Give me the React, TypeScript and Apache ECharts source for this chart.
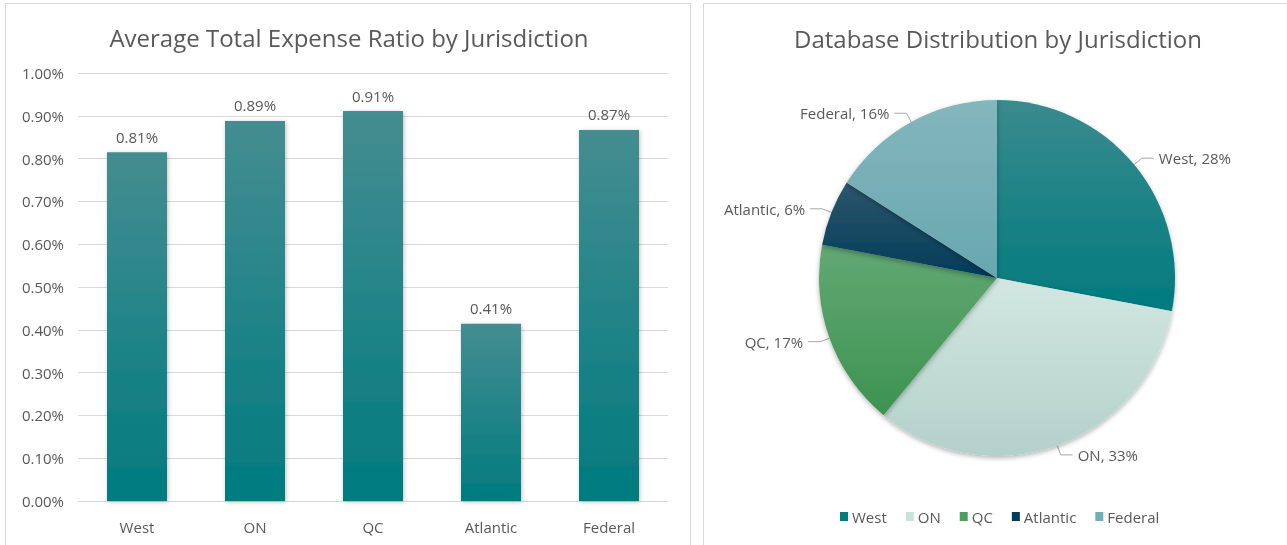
import React, { useEffect, useRef } from "react";
import * as echarts from "echarts";

const barCategories = ["West", "ON", "QC", "Atlantic", "Federal"];
const expenseRatios = [0.815, 0.888, 0.911, 0.414, 0.867];
const yTicks = [0, 0.1, 0.2, 0.3, 0.4, 0.5, 0.6, 0.7, 0.8, 0.9, 1.0];

const pieNames = ["West", "ON", "QC", "Atlantic", "Federal"];
const pieShares = [28, 33, 17, 6, 16];

const pieColors = [
  ["#3a8a8d", "#007b7f"],
  ["#d2e7e1", "#b4d0ca"],
  ["#62a874", "#3c9350"],
  ["#2d566c", "#003c58"],
  ["#84b6bd", "#68a7b0"],
];
const legendColors = ["#007b7f", "#c9e2dc", "#4a9e5e", "#003e5c", "#72aeb5"];

const FONT = "'Open Sans', 'Noto Sans', sans-serif";
const TXT = "#595959";

export default function App() {
  const ref = useRef<HTMLDivElement>(null);
  useEffect(() => {
    const chart = echarts.init(ref.current!, null, { renderer: "svg" });
    const grad = (top: string, bottom: string) =>
      new echarts.graphic.LinearGradient(0, 0, 0, 1, [
        { offset: 0, color: top },
        { offset: 1, color: bottom },
      ]);
    chart.setOption({
      animation: false,
      textStyle: { fontFamily: FONT },
      graphic: [
        {
          type: "rect",
          shape: { x: 5.5, y: 3.5, width: 685, height: 560 },
          style: { fill: "#fff", stroke: "#d9d9d9", lineWidth: 1 },
          z: -10,
        },
        {
          type: "rect",
          shape: { x: 703.5, y: 3.5, width: 600, height: 560 },
          style: { fill: "#fff", stroke: "#d9d9d9", lineWidth: 1 },
          z: -10,
        },
      ],
      title: [
        {
          text: "Average Total Expense Ratio by Jurisdiction",
          left: 344,
          top: 20,
          textAlign: "center",
          textStyle: { fontFamily: FONT, fontSize: 24, fontWeight: "normal", color: TXT },
        },
        {
          text: "Database Distribution by Jurisdiction",
          left: 993,
          top: 21,
          textAlign: "center",
          textStyle: { fontFamily: FONT, fontSize: 24, fontWeight: "normal", color: TXT },
        },
      ],
      grid: { left: 78, top: 73, width: 590, height: 428, containLabel: false },
      xAxis: {
        type: "category",
        data: barCategories,
        axisLine: { show: true, lineStyle: { color: "#d9d9d9" } },
        axisTick: { show: false },
        axisLabel: { color: TXT, fontSize: 15, margin: 18, fontFamily: FONT },
      },
      yAxis: {
        type: "value",
        min: 0,
        max: 1,
        interval: 0.1,
        axisLine: { show: false },
        axisTick: { show: false },
        splitLine: { lineStyle: { color: "#d9d9d9" } },
        axisLabel: {
          color: TXT,
          fontSize: 15,
          margin: 14,
          fontFamily: FONT,
          formatter: (v: number) => {
            const t = yTicks.find((x) => Math.abs(x - v) < 1e-9);
            return (t !== undefined ? t : v).toFixed(2) + "%";
          },
        },
      },
      legend: {
        data: pieNames.map((n, i) => ({ name: n, itemStyle: { color: legendColors[i] } })),
        bottom: 16,
        left: 835,
        itemWidth: 8,
        itemHeight: 9,
        itemGap: 19,
        icon: "rect",
        textStyle: { color: TXT, fontSize: 15, fontFamily: FONT, padding: [0, 0, 0, -1] },
      },
      series: [
        {
          type: "bar",
          data: expenseRatios,
          barWidth: 60,
          itemStyle: {
            color: grad("#448d90", "#007b7f"),
            shadowColor: "rgba(0,0,0,0.25)",
            shadowBlur: 4,
            shadowOffsetX: 1,
            shadowOffsetY: 1,
          },
          label: {
            show: true,
            position: "top",
            distance: 8,
            color: TXT,
            fontSize: 15,
            fontFamily: FONT,
            formatter: (p: any) => p.value.toFixed(2) + "%",
          },
        },
        {
          type: "pie",
          center: [997, 278],
          radius: 178,
          startAngle: 90,
          clockwise: true,
          data: pieNames.map((n, i) => ({
            name: n,
            value: pieShares[i],
            itemStyle: { color: grad(pieColors[i][0], pieColors[i][1]) },
          })),
          itemStyle: {
            borderColor: "#fff",
            borderWidth: 0,
            shadowColor: "rgba(0,0,0,0.3)",
            shadowBlur: 5,
            shadowOffsetY: 2,
          },
          label: {
            show: true,
            formatter: "{b}, {d}%",
            color: TXT,
            fontSize: 15,
            fontFamily: FONT,
          },
          labelLine: {
            show: true,
            length: 10,
            length2: 12,
            lineStyle: { color: "#a6a6a6", width: 1 },
          },
        },
      ],
    });
    return () => chart.dispose();
  }, []);
  return (
    <div
      ref={ref}
      style={{ position: "fixed", left: 0, top: 0, width: 1287, height: 545 }}
    />
  );
}
